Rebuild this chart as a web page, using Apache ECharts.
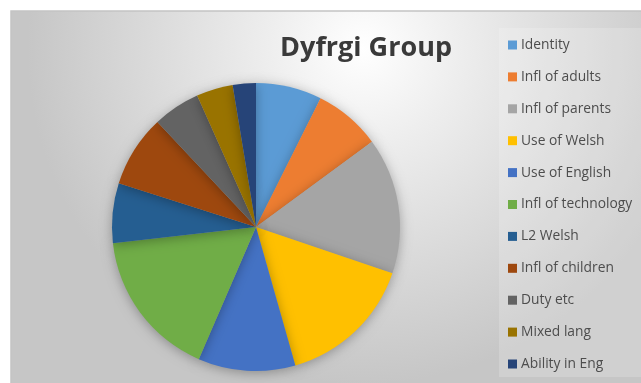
<!DOCTYPE html>
<html>
<head>
<meta charset="utf-8">
<script src="https://cdn.jsdelivr.net/npm/echarts@6/dist/echarts.min.js"></script>
<style>
  html, body { margin: 0; padding: 0; background: #ffffff; }
  #chart { width: 641px; height: 383px; }
</style>
</head>
<body>
<div id="chart"></div>
<script>
// Share of responses by theme (percent)
const categories = [
  'Identity', 'Infl of adults', 'Infl of parents', 'Use of Welsh', 'Use of English',
  'Infl of technology', 'L2 Welsh', 'Infl of children', 'Duty etc', 'Mixed lang', 'Ability in Eng'
];
const values = [7.4, 7.5, 15.3, 15.4, 10.9, 16.7, 6.7, 8.1, 5.3, 4.1, 2.6];
const colors = [
  '#5B9BD5', '#ED7D31', '#A5A5A5', '#FFC000', '#4472C4',
  '#70AD47', '#255E91', '#9E480E', '#636363', '#997300', '#264478'
];

const chart = echarts.init(document.getElementById('chart'), null, { renderer: 'canvas' });

chart.setOption({
  animation: false,
  color: colors,
  graphic: [
    {
      type: 'rect',
      z: -10,
      shape: { x: 11, y: 11, width: 640, height: 380 },
      style: {
        fill: {
          type: 'radial', x: 0.55, y: 0.1, r: 0.88,
          colorStops: [
            { offset: 0, color: '#ffffff' },
            { offset: 0.28, color: '#eeeeee' },
            { offset: 1, color: '#c6c6c6' }
          ]
        },
        stroke: '#c4c4c4',
        lineWidth: 1.5
      }
    },
    {
      type: 'rect',
      z: -9,
      shape: { x: 499, y: 28, width: 150, height: 349 },
      style: { fill: 'rgba(255,255,255,0.18)' }
    }
  ],
  title: {
    text: 'Dyfrgi Group',
    left: 361,
    top: 30,
    textAlign: 'center',
    textStyle: {
      fontFamily: 'Open Sans',
      fontWeight: 'bold',
      fontSize: 27,
      color: '#3a3a3a'
    }
  },
  legend: {
    orient: 'vertical',
    left: 508,
    top: 37,
    padding: 0,
    itemWidth: 9,
    itemHeight: 9,
    itemGap: 15.9,
    icon: 'rect',
    textStyle: {
      fontFamily: 'Open Sans',
      fontSize: 13.8,
      color: '#4d4d4d',
      lineHeight: 16,
      padding: [0, 0, 0, -1]
    },
    data: categories
  },
  series: [
    {
      type: 'pie',
      center: [256, 227],
      radius: 144,
      startAngle: 90,
      clockwise: true,
      label: { show: false },
      labelLine: { show: false },
      itemStyle: {
        borderWidth: 0,
        shadowBlur: 12,
        shadowColor: 'rgba(0,0,0,0.3)',
        shadowOffsetY: 2
      },
      emphasis: { disabled: true },
      data: categories.map((name, i) => ({ name: name, value: values[i] }))
    }
  ]
});
</script>
</body>
</html>
